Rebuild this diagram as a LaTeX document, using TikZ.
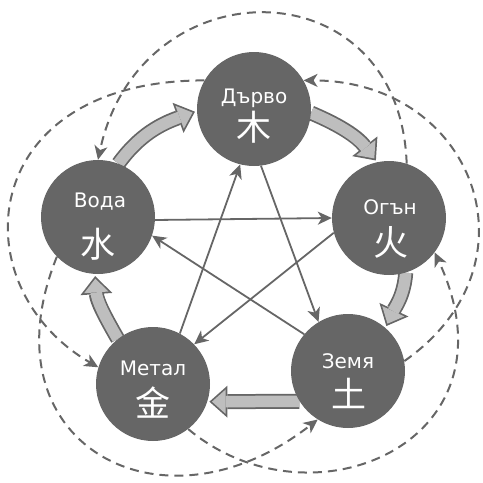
\documentclass[tikz,border=0pt]{standalone}
\usepackage{fontspec}
\setmainfont{DejaVu Sans}
\newfontfamily\cjk{Noto Sans CJK SC}
\usetikzlibrary{arrows.meta}
\definecolor{ink}{HTML}{666666}
\definecolor{lite}{HTML}{BEBEBE}
\pgfdeclarelayer{bg}
\pgfsetlayers{bg,main}
\begin{document}
\begin{tikzpicture}[x=1pt,y=1pt,
  elem/.style={circle, fill=ink, minimum size=114pt, inner sep=0pt},
  elname/.style={text=white, font=\fontsize{20}{22}\selectfont, inner sep=0pt, anchor=base},
  glyph/.style={text=white, font=\cjk\fontsize{35}{35}\selectfont, inner sep=0pt},
  ctrl/.style={draw=ink, line width=1.8pt, -{Stealth[length=14pt,width=13pt,inset=4pt]}},
  insult/.style={draw=ink, line width=2pt, dash pattern=on 9pt off 6pt,
                 -{Stealth[length=14pt,width=13pt,inset=4pt]}},
  fat/.style={preaction={draw=ink, line width=15pt, shorten >=2pt,
                         -{Triangle[length=18pt,width=32pt,line width=0pt]}},
              draw=lite, line width=11.5pt, shorten >=4.6pt,
              -{Triangle[length=13.7pt,width=24.4pt,line width=0pt]}},
]
\useasboundingbox (0,0) rectangle (483,-483);

% elements
\node[elem] (wood)  at (254,-109) {};
\node[elem] (fire)  at (389,-218) {};
\node[elem] (earth) at (348,-371) {};
\node[elem] (metal) at (153,-384) {};
\node[elem] (water) at (98,-217) {};

\node[elname] (woodn)  at (254,-103) {Дърво};
\node[glyph]  (woodg)  at (254,-127) {木};
\node[elname] (firen)  at (390,-214) {Огън};
\node[glyph]  (fireg)  at (391,-242) {火};
\node[elname] (earthn) at (348,-368) {Земя};
\node[glyph]  (earthg) at (349,-393) {土};
\node[elname] (metaln) at (153,-375) {Метал};
\node[glyph]  (metalg) at (153,-403) {金};
\node[elname] (watern) at (100,-207) {Вода};
\node[glyph]  (waterg) at (98,-244) {水};

\begin{pgfonlayer}{bg}
% generating cycle
\draw[fat] (water.69) to[out=54,in=200] (wood.182);
\draw[fat] (wood.-4) to[out=-23,in=128] (fire.102);
\draw[fat] (fire.-73) to[out=-94,in=65] (earth.49);
\draw[fat] (earth.212) to[out=180,in=0] (metal.-18);
\draw[fat] (metal.128) to[out=120,in=-86] (water.267);

% controlling cycle
\draw[ctrl] (wood.-83) -- (earth.121);
\draw[ctrl] (earth.140) -- (water.-19);
\draw[ctrl] (water.-3) -- (fire.180);
\draw[ctrl] (fire.195) -- (metal.44);
\draw[ctrl] (metal.62) -- (wood.256);

% counter cycle
\draw[insult] (fire.72) to[out=92,in=78,distance=200pt] (water.90);
\draw[insult] (earth.10) to[out=35,in=0,distance=170pt] (wood.30);
\draw[insult] (water.224) to[out=248,in=218,distance=200pt] (earth.238);
\draw[insult] (wood.150) to[out=180,in=150,out distance=230pt,in distance=160pt] (metal.163);
\draw[insult] (metal.-52) to[out=-40,in=-65,out distance=160pt,in distance=210pt] (fire.-37);
\end{pgfonlayer}
\end{tikzpicture}
\end{document}
